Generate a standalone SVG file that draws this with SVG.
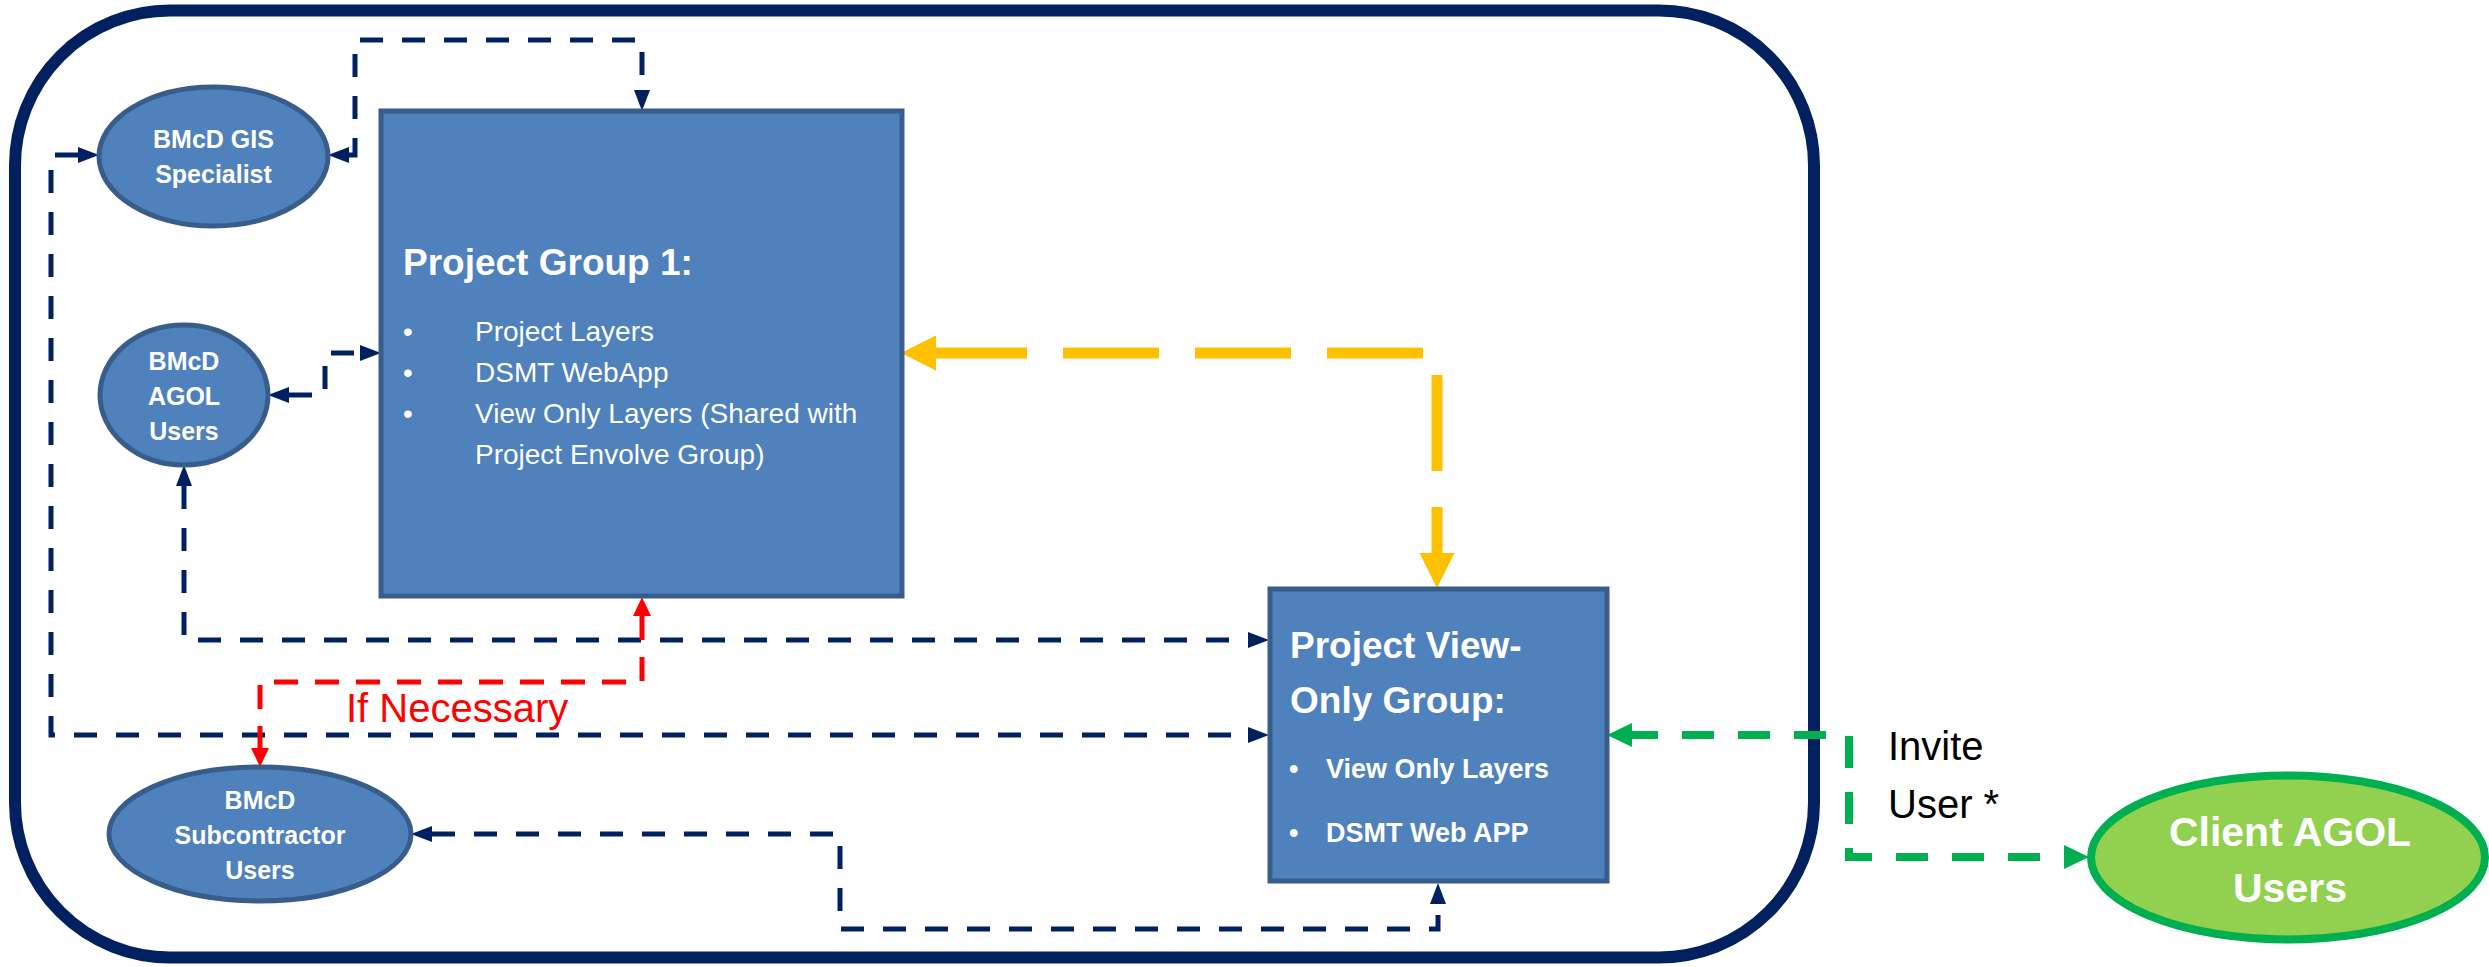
<svg xmlns="http://www.w3.org/2000/svg" width="2489" height="967" viewBox="0 0 2489 967">
<style>
text{font-family:"Liberation Sans",Arial,sans-serif}
.node{fill:#4F81BD;stroke:#385D8A;stroke-width:5}
.wt{fill:#FFFFFF;font-weight:bold}
.navy{fill:none;stroke:#002060;stroke-width:5;stroke-dasharray:23 19}
.red{fill:none;stroke:#FF0000;stroke-width:5;stroke-dasharray:24 17}
.yel{fill:none;stroke:#FFC000;stroke-width:11;stroke-dasharray:96 36;stroke-dashoffset:5}
.grn{fill:none;stroke:#00B050;stroke-width:8;stroke-dasharray:32 24;stroke-dashoffset:6}
</style>
<defs>
<marker id="aN" markerUnits="userSpaceOnUse" viewBox="0 -9 21 18" markerWidth="21" markerHeight="18" refX="0" refY="0" orient="auto-start-reverse"><path d="M0,-8 L21,0 L0,8 Z" fill="#002060"/></marker>
<marker id="aR" markerUnits="userSpaceOnUse" viewBox="0 -10 19 20" markerWidth="19" markerHeight="20" refX="0" refY="0" orient="auto-start-reverse"><path d="M0,-9 L19,0 L0,9 Z" fill="#FF0000"/></marker>
<marker id="aY" markerUnits="userSpaceOnUse" viewBox="0 -18 35 36" markerWidth="35" markerHeight="36" refX="0" refY="0" orient="auto-start-reverse"><path d="M0,-17.5 L35,0 L0,17.5 Z" fill="#FFC000"/></marker>
<marker id="aG" markerUnits="userSpaceOnUse" viewBox="0 -13 25 26" markerWidth="25" markerHeight="26" refX="0" refY="0" orient="auto-start-reverse"><path d="M0,-12 L25,0 L0,12 Z" fill="#00B050"/></marker>
</defs>
<rect x="0" y="0" width="2489" height="967" fill="#FFFFFF"/>
<rect id="frame" x="15" y="10.5" width="1799" height="947" rx="155" ry="155" fill="none" stroke="#002060" stroke-width="12"/>

<g id="connectors">
<path class="navy" d="M349,155 H355 V40 H642 V90" marker-start="url(#aN)" marker-end="url(#aN)"/>
<path class="navy" d="M289,395 H325 V353 H360" marker-start="url(#aN)" marker-end="url(#aN)"/>
<path class="navy" d="M184,486 V640 H1248" marker-start="url(#aN)" marker-end="url(#aN)"/>
<path class="navy" d="M78,155 H51 V735 H1248" marker-start="url(#aN)" marker-end="url(#aN)"/>
<path class="navy" d="M432,834 H840 V929 H1438 V904" marker-start="url(#aN)" marker-end="url(#aN)"/>
<path class="red" d="M642,616 V682 H260 V748" marker-start="url(#aR)" marker-end="url(#aR)"/>
<path class="yel" d="M936,353 H1437 V553" marker-start="url(#aY)" marker-end="url(#aY)"/>
<path class="grn" d="M1632,735 H1849 V857 H2064" marker-start="url(#aG)" marker-end="url(#aG)"/>
</g>

<g id="project-group-1">
<rect class="node" x="381" y="111" width="521" height="485"/>
<text class="wt" x="403" y="275" font-size="37">Project Group 1:</text>
<g fill="#FFFFFF" font-size="28">
<text x="403" y="341">•</text><text x="475" y="341">Project Layers</text>
<text x="403" y="382">•</text><text x="475" y="382">DSMT WebApp</text>
<text x="403" y="423">•</text><text x="475" y="423">View Only Layers (Shared with</text>
<text x="475" y="464">Project Envolve Group)</text>
</g>
</g>

<g id="gis-specialist">
<ellipse class="node" cx="213.5" cy="156.5" rx="114.5" ry="69.5"/>
<text class="wt" x="213.5" y="148" font-size="25" text-anchor="middle">BMcD GIS</text>
<text class="wt" x="213.5" y="183" font-size="25" text-anchor="middle">Specialist</text>
</g>

<g id="agol-users">
<ellipse class="node" cx="184" cy="395" rx="84" ry="70"/>
<text class="wt" x="184" y="370" font-size="25" text-anchor="middle">BMcD</text>
<text class="wt" x="184" y="405" font-size="25" text-anchor="middle">AGOL</text>
<text class="wt" x="184" y="440" font-size="25" text-anchor="middle">Users</text>
</g>

<g id="subcontractor-users">
<ellipse class="node" cx="260" cy="834" rx="151" ry="67"/>
<text class="wt" x="260" y="809" font-size="25" text-anchor="middle">BMcD</text>
<text class="wt" x="260" y="844" font-size="25" text-anchor="middle">Subcontractor</text>
<text class="wt" x="260" y="879" font-size="25" text-anchor="middle">Users</text>
</g>

<g id="view-only-group">
<rect class="node" x="1270" y="589" width="337" height="292"/>
<text class="wt" x="1290" y="658" font-size="37">Project View-</text>
<text class="wt" x="1290" y="713" font-size="37">Only Group:</text>
<text class="wt" x="1289" y="778" font-size="27">•</text>
<text class="wt" x="1326" y="778" font-size="27">View Only Layers</text>
<text class="wt" x="1289" y="842" font-size="27">•</text>
<text class="wt" x="1326" y="842" font-size="27">DSMT Web APP</text>
</g>

<g id="client-agol-users">
<ellipse cx="2288" cy="857.5" rx="197" ry="82" fill="#92D050" stroke="#00B050" stroke-width="8"/>
<text class="wt" x="2290" y="846" font-size="41" text-anchor="middle">Client AGOL</text>
<text class="wt" x="2290" y="902" font-size="41" text-anchor="middle">Users</text>
</g>

<g id="labels">
<text x="346" y="722" font-size="40" fill="#FF0000">If Necessary</text>
<text x="1888" y="760" font-size="40" fill="#000000">Invite</text>
<text x="1888" y="818" font-size="40" fill="#000000">User *</text>
</g>
</svg>
